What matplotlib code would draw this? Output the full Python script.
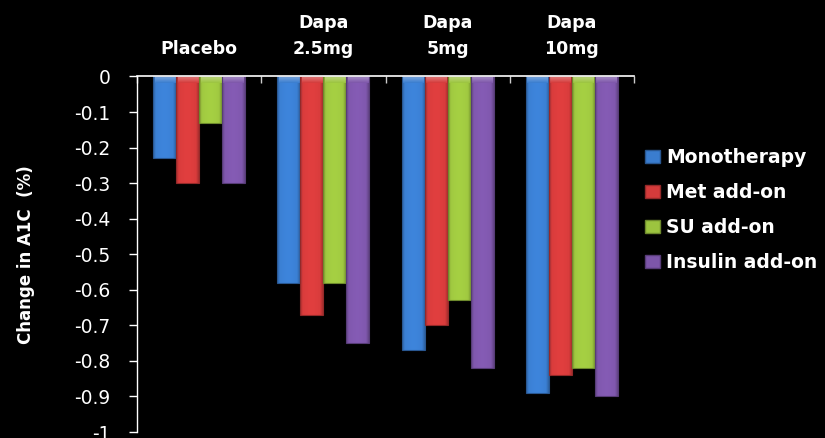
import numpy as np
import matplotlib
matplotlib.use("Agg")
import matplotlib.pyplot as plt
from matplotlib.patches import Patch
from matplotlib.colors import to_rgb

# Mean change in A1C (%) by treatment arm and background therapy
categories = ["Placebo", "Dapa\n2.5mg", "Dapa\n5mg", "Dapa\n10mg"]
series_names = ["Monotherapy", "Met add-on", "SU add-on", "Insulin add-on"]
monotherapy = [-0.23, -0.58, -0.77, -0.89]
met_addon = [-0.30, -0.67, -0.70, -0.84]
su_addon = [-0.13, -0.58, -0.63, -0.82]
insulin_addon = [-0.30, -0.75, -0.82, -0.90]
yticks = [0, -0.1, -0.2, -0.3, -0.4, -0.5, -0.6, -0.7, -0.8, -0.9, -1]
ytick_labels = ["0", "-0.1", "-0.2", "-0.3", "-0.4", "-0.5", "-0.6", "-0.7", "-0.8", "-0.9", "-1"]

series = [monotherapy, met_addon, su_addon, insulin_addon]
colors = ["#3a7dcf", "#d43b3b", "#9cc43f", "#7d56aa"]

FONT = "DejaVu Sans"
plt.rcParams["font.family"] = [FONT]

fig = plt.figure(figsize=(8.25, 4.38), dpi=100, facecolor="black")
ax = fig.add_axes([137 / 825, 1 - 432 / 438, (634 - 137) / 825, (432 - 76.5) / 438])
ax.set_facecolor("black")

x = np.arange(len(categories))
bar_w = 0.185


def shaded(color, ny=60, nx=40):
    """Bevel-like shading: darker side edges, slight lift in the middle."""
    base = np.array(to_rgb(color))
    u = np.linspace(0, 1, nx)
    side = np.minimum(u, 1 - u)
    shade = 0.80 + 0.20 * np.clip(side / 0.12, 0, 1)
    shade = shade * (1 + 0.06 * np.sin(np.pi * u))
    img = np.ones((ny, nx, 3)) * base
    img = img * shade[None, :, None]
    return np.clip(img, 0, 1)


for i, (vals, col) in enumerate(zip(series, colors)):
    bars = ax.bar(x + (i - 1.5) * bar_w, vals, width=bar_w, color=col,
                  edgecolor="none", zorder=2)
    base = np.array(to_rgb(col))
    for b in bars:
        x0, w, h = b.get_x(), b.get_width(), b.get_height()
        ax.imshow(shaded(col), extent=(x0, x0 + w, h, 0), origin="upper",
                  aspect="auto", zorder=3, interpolation="bilinear")
        # light top bevel
        top_h = 0.018
        band = np.linspace(1, 0, 20)[:, None, None] * 0.35
        top = np.clip(base + (1 - base) * band * np.ones((1, 10, 1)), 0, 1)
        ax.imshow(top, extent=(x0 + w * 0.06, x0 + w * 0.94, -top_h, 0),
                  origin="upper", aspect="auto", zorder=4,
                  interpolation="bilinear")
        ax.add_patch(plt.Rectangle((x0, h), w, -h, fill=False,
                                   edgecolor=tuple(base * 0.7),
                                   linewidth=0.8, zorder=5))

ax.set_xlim(-0.5, len(categories) - 0.5)
ax.set_ylim(-1, 0)

ax.set_yticks(yticks)
ax.set_yticklabels(ytick_labels)
ax.tick_params(axis="y", colors="white", labelcolor="white", labelsize=13.5,
               length=6, width=1, direction="out", pad=13)

# category axis sits at zero, with labels above it
ax.xaxis.tick_top()
ax.set_xticks(x)
ax.set_xticklabels(categories, fontsize=12.5, fontweight="bold", color="white",
                   linespacing=1.6)
ax.tick_params(axis="x", which="major", length=0, pad=13)
ax.set_xticks(np.arange(-0.5, len(categories), 1.0), minor=True)
ax.tick_params(axis="x", which="minor", top=True, bottom=False, length=5,
               width=1, direction="in", colors="#cccccc")

for side in ["right", "bottom"]:
    ax.spines[side].set_visible(False)
ax.spines["left"].set_color("white")
ax.spines["top"].set_color("white")
ax.spines["left"].set_linewidth(1)
ax.spines["top"].set_linewidth(1.2)
ax.spines["top"].set_zorder(6)

ax.set_ylabel("Change in A1C  (%)", color="white", fontsize=12,
              fontweight="bold", labelpad=28)

handles = [Patch(facecolor=c, edgecolor=tuple(np.array(to_rgb(c)) * 0.7))
           for c in colors]
leg = fig.legend(handles, series_names, loc="center left",
                 bbox_to_anchor=(628 / 825, 1 - 210 / 438), frameon=False,
                 prop={"family": FONT, "weight": "bold", "size": 13.5},
                 labelcolor="white", handlelength=0.8, handleheight=0.75,
                 handletextpad=0.35, labelspacing=0.85)

fig.savefig("out.png", dpi=100, facecolor="black")
